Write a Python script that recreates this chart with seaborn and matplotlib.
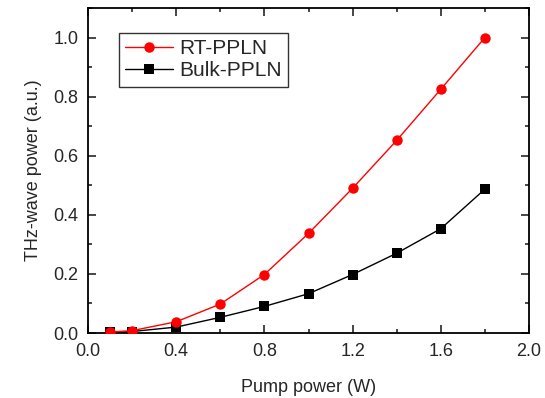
import matplotlib
matplotlib.use("Agg")
import matplotlib.pyplot as plt
import seaborn as sns
import pandas as pd
from matplotlib.ticker import MultipleLocator

sns.set_style("ticks")
plt.rcParams['font.family'] = ['Liberation Sans', 'DejaVu Sans']

pump_power = [0.1, 0.2, 0.4, 0.6, 0.8, 1.0, 1.2, 1.4, 1.6, 1.8]
rt_ppln = [0.003, 0.008, 0.038, 0.098, 0.198, 0.337, 0.490, 0.652, 0.825, 1.000]
bulk_ppln = [0.002, 0.005, 0.020, 0.053, 0.090, 0.133, 0.198, 0.270, 0.353, 0.487]

df = pd.concat([
    pd.DataFrame({"x": pump_power, "y": rt_ppln, "s": "RT-PPLN"}),
    pd.DataFrame({"x": pump_power, "y": bulk_ppln, "s": "Bulk-PPLN"}),
])

fig = plt.figure(figsize=(5.45, 3.98), dpi=100)
ax = fig.add_axes([88/545, 1-333/398, (529-88)/545, (333-8)/398])

sns.lineplot(data=df, x="x", y="y", hue="s", style="s",
             palette={"RT-PPLN": "#ff0000", "Bulk-PPLN": "#000000"},
             markers={"RT-PPLN": "o", "Bulk-PPLN": "s"},
             dashes=False, markersize=7.5, linewidth=1.0,
             markeredgewidth=0, ax=ax)
# red series drawn on top
for ln in ax.get_lines():
    if ln.get_label() == "RT-PPLN" or str(ln.get_color()).lower() in ("#ff0000", "red"):
        ln.set_zorder(3)

ax.set_xlim(0, 2.0)
ax.set_ylim(0, 1.1)
ax.xaxis.set_major_locator(MultipleLocator(0.4))
ax.xaxis.set_minor_locator(MultipleLocator(0.2))
ax.yaxis.set_major_locator(MultipleLocator(0.2))
ax.yaxis.set_minor_locator(MultipleLocator(0.1))
ax.set_xticklabels([f"{v:.1f}" for v in ax.get_xticks()])
ax.set_yticklabels([f"{v:.1f}" for v in ax.get_yticks()])
ax.tick_params(which='both', direction='in', top=True, right=True, labelsize=13, width=1.2, pad=7)
ax.tick_params(which='major', length=6)
ax.tick_params(which='minor', length=3)
for sp in ax.spines.values():
    sp.set_linewidth(1.3)
    sp.set_color('black')

ax.set_xlabel("Pump power (W)", fontsize=13, labelpad=14)
ax.set_ylabel("THz-wave power (a.u.)", fontsize=13, labelpad=8)

leg = ax.legend(loc='upper left', bbox_to_anchor=(0.07, 0.923), fontsize=15,
                frameon=True, fancybox=False, edgecolor='black',
                handlelength=2.3, borderpad=0.3, labelspacing=0.15, handletextpad=0.3,
                borderaxespad=0)
leg.get_frame().set_linewidth(1.0)

fig.savefig("out.png", dpi=100)
